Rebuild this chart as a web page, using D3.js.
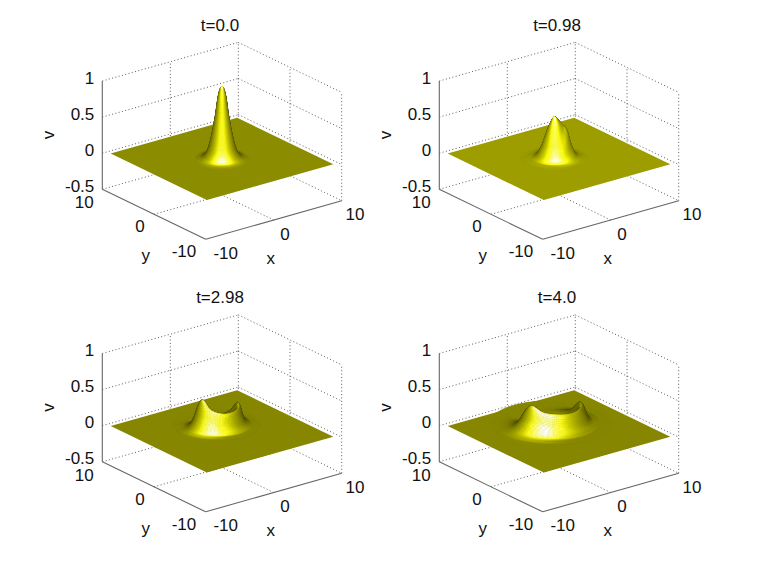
<!DOCTYPE html>
<html>
<head>
<style>
  body { margin: 0; background: #fff; }
  text { font-family: "Liberation Sans", sans-serif; font-size: 17px; fill: #111; }
  .grid { fill: none; stroke: #333; stroke-width: 0.8; stroke-dasharray: 1 2.4; }
  .axis { fill: none; stroke: #666; stroke-width: 1.1; }
</style>
<script src="https://d3js.org/d3.v7.min.js"></script>
</head>
<body>
<svg width="763" height="575">
  <defs><filter id="soft" x="-5%" y="-5%" width="110%" height="110%"><feGaussianBlur stdDeviation="0.55"/></filter></defs>
</svg>
<script>
var titles = ["t=0.0", "t=0.98", "t=2.98", "t=4.0"];
var xTicks = [-10, 0, 10], yTicks = [-10, 0, 10], vTicks = [-0.5, 0, 0.5, 1];
var xDomain = [-10, 10], yDomain = [-10, 10], vDomain = [-0.5, 1];
var surfaceEdge = 9.3;

// radial table of each surface, rows are radii, columns are these angles (deg)
var angles = [10, 40, 70, 100, 130, 160, 190, 220, 250, 280, 310, 340];

var centre0 = [0, 0];
var radii0 = [0, 0.4, 0.8, 1.2, 1.6, 2, 2.4, 2.8, 3.2];
var v0 = [
  [1, 1, 1, 1, 1, 1, 1, 1, 1, 1, 1, 1],
  [.89, .89, .89, .89, .89, .89, .89, .89, .89, .89, .89, .89],
  [.58, .58, .58, .58, .58, .58, .58, .58, .58, .58, .58, .58],
  [.33, .33, .33, .33, .33, .33, .33, .33, .33, .33, .33, .33],
  [.15, .15, .15, .15, .15, .15, .15, .15, .15, .15, .15, .15],
  [.06, .06, .06, .06, .06, .06, .06, .06, .06, .06, .06, .06],
  [.02, .02, .02, .02, .02, .02, .02, .02, .02, .02, .02, .02],
  [.005, .005, .005, .005, .005, .005, .005, .005, .005, .005, .005, .005],
  [0, 0, 0, 0, 0, 0, 0, 0, 0, 0, 0, 0]
];

var centre1 = [-0.3, 0.5];
var radii1 = [0, 0.5, 1, 1.5, 2, 2.5, 3, 3.5, 4];
var v1 = [
  [.57, .57, .57, .57, .57, .57, .57, .57, .57, .57, .57, .57],
  [.52, .51, .5, .49, .48, .48, .48, .48, .49, .5, .51, .52],
  [.44, .41, .37, .34, .33, .33, .33, .33, .34, .36, .4, .45],
  [.36, .3, .23, .18, .17, .17, .17, .17, .18, .22, .3, .38],
  [.17, .13, .09, .07, .06, .06, .06, .06, .07, .09, .13, .18],
  [.05, .04, .03, .02, .015, .015, .015, .015, .02, .03, .04, .05],
  [.012, .01, .007, .005, .005, .005, .005, .005, .005, .007, .01, .012],
  [.002, .002, .001, .001, .001, .001, .001, .001, .001, .001, .002, .002],
  [0, 0, 0, 0, 0, 0, 0, 0, 0, 0, 0, 0]
];

var centre2 = [0.74, 2.03];
var radii2 = [0, 0.65, 1.3, 1.95, 2.6, 3.25, 3.9, 4.55, 5.2];
var v2 = [
  [0, 0, 0, 0, 0, 0, 0, 0, 0, 0, 0, 0],
  [0, 0, 0, 0, 0, 0, .01, .01, .01, .01, .01, .01],
  [.03, .01, 0, 0, 0, .02, .07, .06, .05, .05, .05, .05],
  [.1, .03, 0, 0, .01, .08, .25, .18, .14, .14, .14, .16],
  [.13, .03, 0, 0, .02, .14, .43, .31, .26, .25, .26, .28],
  [.04, .01, 0, 0, .005, .06, .19, .16, .09, .07, .07, .07],
  [.006, .001, 0, 0, .001, .012, .05, .04, .015, .01, .01, .01],
  [0, 0, 0, 0, 0, .001, .008, .006, .002, .001, .001, .001],
  [0, 0, 0, 0, 0, 0, 0, 0, 0, 0, 0, 0]
];

var centre3 = [0.77, 2.6];
var radii3 = [0, 0.9, 1.8, 2.7, 3.6, 4.5, 5.4, 6.3, 7.2];
var v3 = [
  [0, 0, 0, 0, 0, 0, 0, 0, 0, 0, 0, 0],
  [0, 0, 0, 0, 0, 0, 0, 0, 0, 0, 0, 0],
  [.01, 0, 0, 0, 0, .01, .04, .05, .05, .05, .05, .04],
  [.06, .01, 0, 0, 0, .05, .2, .17, .14, .13, .13, .13],
  [.08, .015, 0, 0, .005, .1, .36, .3, .27, .25, .25, .25],
  [.03, .005, 0, 0, .005, .05, .17, .15, .09, .06, .05, .05],
  [.004, 0, 0, 0, .001, .012, .05, .04, .015, .008, .006, .006],
  [0, 0, 0, 0, 0, .001, .008, .006, .002, .001, .001, .001],
  [0, 0, 0, 0, 0, 0, 0, 0, 0, 0, 0, 0]
];

var tables = [v0, v1, v2, v3];
var radiiList = [radii0, radii1, radii2, radii3];
var centres = [centre0, centre1, centre2, centre3];
var flatLevels = [0.545, 0.61, 0.52, 0.52];
var offsets = [[0, 0], [337, 0], [0, 272.5], [337, 272.5]];

var svg = d3.select("svg");

// box coordinates 0..1 on each axis
var sx = d3.scaleLinear().domain(xDomain).range([0, 1]),
    sy = d3.scaleLinear().domain(yDomain).range([0, 1]),
    sv = d3.scaleLinear().domain(vDomain).range([0, 1]);

// matlab default view(3), measured off the first panel
var origin = [205.7, 239.3], ex = [136, -38.6], ey = [-103.4, -50], ez = [0, -108.3];
var camera = [-0.523, -0.688, 0.504];

function project(x, y, v) {
  var X = sx(x), Y = sy(y), Z = sv(v);
  return [origin[0] + X * ex[0] + Y * ey[0] + Z * ez[0],
          origin[1] + X * ex[1] + Y * ey[1] + Z * ez[1]];
}

function catmull(a, b, c, d, t) {
  return 0.5 * (2 * b + (c - a) * t + (2 * a - 5 * b + 4 * c - d) * t * t + (3 * b - a - 3 * c + d) * t * t * t);
}

// value of a polar table at fractional row i and fractional column j
function rowAt(table, i, j) {
  var n = angles.length;
  var col = ((j % n) + n) % n;
  if (i < 0) { i = -i; col = (col + n / 2) % n; }
  i = Math.min(i, table.length - 1);
  var c0 = Math.floor(col), t = col - c0;
  var row = table[i];
  return catmull(row[(c0 + n - 1) % n], row[c0], row[(c0 + 1) % n], row[(c0 + 2) % n], t);
}

function tableValue(table, ri, aj) {
  var i0 = Math.floor(ri), t = ri - i0;
  return Math.max(0, catmull(rowAt(table, i0 - 1, aj), rowAt(table, i0, aj), rowAt(table, i0 + 1, aj), rowAt(table, i0 + 2, aj), t));
}

function shade(nl, flat) {
  var d = 0.49, s = 0.55;
  nl = Math.max(0, nl);
  var y = flat - 0.5 * d + d * nl + s * Math.pow(nl, 8);
  var b = Math.pow(nl, 22);
  return d3.rgb(255 * Math.min(1, y), 255 * Math.min(1, y), 255 * Math.min(1, b)).formatHex();
}

titles.forEach(function(title, k) {
  var g = svg.append("g").attr("transform", "translate(" + offsets[k] + ")");
  var line = function(a, b, cls) {
    var p = project(a[0], a[1], a[2]), q = project(b[0], b[1], b[2]);
    g.append("line").attr("class", cls)
        .attr("x1", p[0]).attr("y1", p[1]).attr("x2", q[0]).attr("y2", q[1]);
  };
  var vMin = vDomain[0], vMax = vDomain[1];

  // back walls and floor
  vTicks.forEach(function(v) {
    line([-10, 10, v], [10, 10, v], "grid");
    line([10, 10, v], [10, -10, v], "grid");
  });
  line([0, 10, vMin], [0, 10, vMax], "grid");
  line([10, 10, vMin], [10, 10, vMax], "grid");
  line([10, 0, vMin], [10, 0, vMax], "grid");
  line([10, -10, vMin], [10, -10, vMax], "grid");
  line([0, -10, vMin], [0, 10, vMin], "grid");
  line([-10, 0, vMin], [10, 0, vMin], "grid");

  // flat part of the surface
  var flat = flatLevels[k], e = surfaceEdge;
  var surface = g.append("g").attr("filter", "url(#soft)");
  surface.append("path")
      .attr("d", d3.line()([project(-e, -e, 0), project(e, -e, 0), project(e, e, 0), project(-e, e, 0)]) + "Z")
      .attr("fill", shade(camera[2], flat));

  // the bump, as a fine polar mesh painted back to front
  var table = tables[k], radii = radiiList[k], c = centres[k];
  var rStep = radii[1] - radii[0], sub = 10, rows = (radii.length - 1) * sub, cols = 96;
  var vertex = function(i, j) {
    var ri = i / sub, aj = j / cols * angles.length;
    var r = ri * rStep, a = (angles[0] + aj * 30) * Math.PI / 180;
    return [c[0] + r * Math.cos(a), c[1] + r * Math.sin(a), tableValue(table, ri, aj)];
  };
  var quads = [];
  d3.range(rows).forEach(function(i) {
    d3.range(cols).forEach(function(j) {
      var p = [vertex(i, j), vertex(i + 1, j), vertex(i + 1, j + 1), vertex(i, j + 1)];
      var box = p.map(function(q) { return [sx(q[0]), sy(q[1]), sv(q[2])]; });
      var u = [box[2][0] - box[0][0], box[2][1] - box[0][1], box[2][2] - box[0][2]],
          w = [box[3][0] - box[1][0], box[3][1] - box[1][1], box[3][2] - box[1][2]];
      var n = [u[1] * w[2] - u[2] * w[1], u[2] * w[0] - u[0] * w[2], u[0] * w[1] - u[1] * w[0]];
      var len = Math.sqrt(n[0] * n[0] + n[1] * n[1] + n[2] * n[2]) || 1;
      if (n[2] < 0) len = -len;
      var nl = (n[0] * camera[0] + n[1] * camera[1] + n[2] * camera[2]) / len;
      var depth = d3.mean(box, function(q) { return q[0] * camera[0] + q[1] * camera[1] + q[2] * camera[2]; });
      quads.push({ pts: p, nl: nl, depth: depth });
    });
  });
  quads.sort(function(a, b) { return a.depth - b.depth; });
  surface.selectAll("path.q")
    .data(quads)
    .enter().append("path")
      .attr("class", "q")
      .attr("d", function(d) {
        return d3.line()(d.pts.map(function(q) { return project(q[0], q[1], q[2]); })) + "Z";
      })
      .attr("fill", function(d) { return shade(d.nl, flat); })
      .attr("stroke", function(d) { return shade(d.nl, flat); })
      .attr("stroke-width", 0.4);

  // solid axes
  line([-10, 10, vMin], [-10, 10, vMax], "axis");
  line([-10, 10, vMin], [-10, -10, vMin], "axis");
  line([-10, -10, vMin], [10, -10, vMin], "axis");

  // tick labels, placed from the axes
  var label = function(p, dx, dy, s, anchor) {
    g.append("text").attr("x", p[0] + dx).attr("y", p[1] + dy)
        .attr("text-anchor", anchor || "middle").attr("dominant-baseline", "central").text(s);
  };
  vTicks.forEach(function(v) { label(project(-10, 10, v), -8, -3, String(v), "end"); });
  yTicks.forEach(function(y) {
    label(project(-10, y, vMin), y === 0 ? -14 : y > 0 ? -18 : -21.7, y > 0 ? 13.4 : 12.4, String(y));
  });
  xTicks.forEach(function(x) {
    label(project(x, -10, vMin), x === 0 ? 11.3 : x > 0 ? 13.3 : 20, 14, String(x));
  });
  label(project(0, -10, vMin), -3, 38, "x");
  label(project(-10, 0, vMin), -8.3, 41.4, "y");
  g.append("text").attr("transform", "translate(48.3,135) rotate(-90)")
      .attr("text-anchor", "middle").attr("dominant-baseline", "central").text("v");
  g.append("text").attr("x", 220).attr("y", 25)
      .attr("text-anchor", "middle").attr("dominant-baseline", "central").text(title);
});
</script>
</body>
</html>
